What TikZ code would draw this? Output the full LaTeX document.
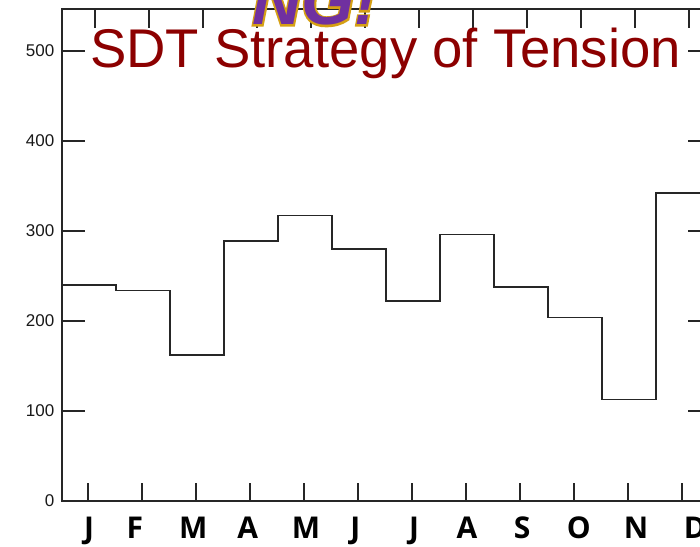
\documentclass[tikz,border=0pt]{standalone}
\usepackage{fontspec}
\setmainfont{Liberation Sans}
\newfontfamily\monthfont{Open Sans}
\newfontfamily\rimfont[FakeBold=5]{Liberation Sans}
\usepackage{xcolor}
\usetikzlibrary{positioning}

\definecolor{titlered}{RGB}{140,0,0}
\definecolor{artpurple}{RGB}{112,48,160}
\definecolor{artgold}{RGB}{214,160,20}

\begin{document}
\begin{tikzpicture}[
    x=1bp, y=1bp,
    frame/.style={line width=1.4bp, black!85},
    tickmark/.style={line width=1.2bp, black!85},
    curve/.style={line width=1.5bp, black!85, line join=miter},
    ylabel/.style={anchor=east, inner sep=0pt, text=black!90, font=\fontsize{17bp}{17bp}\selectfont},
    month/.style={anchor=base, inner sep=0pt, font=\monthfont\bfseries\fontsize{30bp}{30bp}\selectfont},
    art/.style={anchor=base west, inner sep=0pt, font=\fontsize{68bp}{68bp}\selectfont}
]
\useasboundingbox (0,0) rectangle (700,547);
\clip (0,0) rectangle (700,547);
\fill[white] (0,0) rectangle (700,547);

% Chart: one month = 54bp, 100 units = 90bp
\begin{scope}[shift={(62,46)}, x=54bp, y=0.9bp]
  % Frame
  \draw[frame] (12.04,0) -- (0,0) -- (0,546.7) -- (12.04,546.7) -- cycle;

  % Ticks
  \foreach \i in {1,...,12} {
    \draw[tickmark] (\i-0.52,0) -- (\i-0.52,20);
    \draw[tickmark] (\i-0.39,546.7) -- (\i-0.39,525);
  }
  \foreach \v in {100,200,300,400,500} {
    \draw[tickmark] (0,\v) -- (0.43,\v);
    \draw[tickmark] (12.04,\v) -- (11.59,\v);
  }

  % Value labels
  \foreach \v in {0,100,200,300,400,500}
    \node[ylabel] (val\v) at (-0.14,\v) {\v};

  % Month labels
  \foreach \x/\m [count=\k] in {0.5/J,1.35/F,2.43/M,3.44/A,4.52/M,5.43/J,6.52/J,7.5/A,8.52/S,9.57/O,10.63/N,11.72/D}
    \node[month] (mon\k) at (\x,-42) {\m};

  % Monthly steps
  \draw[curve] (0,240) -- (1,240) -- (1,234) -- (2,234) -- (2,162) -- (3,162)
    -- (3,289) -- (4,289) -- (4,317) -- (5,317) -- (5,280) -- (6,280)
    -- (6,222) -- (7,222) -- (7,296) -- (8,296) -- (8,238) -- (9,238)
    -- (9,204) -- (10,204) -- (10,113) -- (11,113) -- (11,342) -- (12.04,342);
\end{scope}

% Word art at the top edge
\node[art, text=artgold] (wordrim) at (252,522) {\rimfont\bfseries\itshape NG!};
\node[art, text=artpurple] (wordart) at (252,522) {\bfseries\itshape NG!};

% Title
\node[anchor=base west, inner sep=0pt, text=titlered,
      font=\fontsize{54.5bp}{54.5bp}\selectfont] (title) at (90,479) {SDT Strategy of Tension};

\end{tikzpicture}
\end{document}
